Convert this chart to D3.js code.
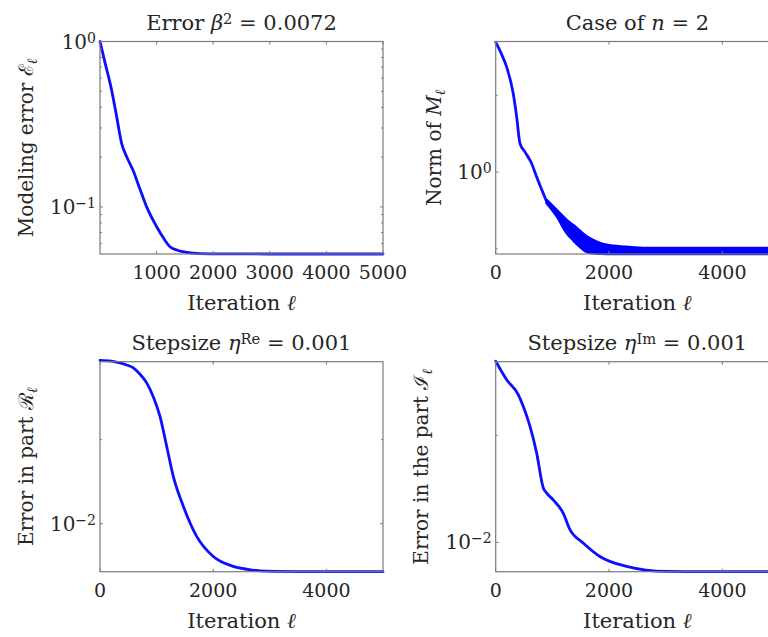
<!DOCTYPE html>
<html>
<head>
<meta charset="utf-8">
<script src="https://cdn.jsdelivr.net/npm/d3@7"></script>
<style>
  html, body { margin: 0; padding: 0; background: #fff; }
  svg { display: block; }
</style>
</head>
<body>
<svg id="chart" width="768" height="637" font-family="'DejaVu Serif', serif"></svg>
<script>
// ---------------- DATA ----------------
// Top-left: modeling error E_l
const tlIter = [1, 100, 194, 290, 383, 480, 583, 700, 825, 1002, 1120, 1237, 1380, 1532, 1767, 2200, 3000, 4000, 5000];
const tlErr  = [1.0, 0.72, 0.532, 0.36, 0.242, 0.198, 0.167, 0.130, 0.100, 0.0759, 0.0650, 0.0574, 0.0545, 0.0531, 0.0522, 0.0520, 0.0519, 0.0519, 0.0519];
const tlXTicks = [1000, 2000, 3000, 4000, 5000];
const tlYMajor = [1, 0.1];
const tlYMinor = [0.06, 0.07, 0.08, 0.09, 0.2, 0.3, 0.4, 0.5, 0.6, 0.7, 0.8, 0.9];
const tlYLabels = ["0", "−1"];

// Top-right: norm of M_l (single curve, then oscillating band)
const trIter = [0, 100, 194, 310, 370, 428, 516, 634, 722, 839, 899];
const trNorm = [7.02, 5.9, 4.83, 3.24, 2.29, 1.54, 1.355, 1.139, 0.932, 0.727, 0.643];
const trBandIter  = [899, 1075, 1251, 1367, 1485, 1604, 1780, 1956, 2300, 2661, 3500, 5000];
const trBandUpper = [0.658, 0.567, 0.488, 0.452, 0.415, 0.382, 0.353, 0.336, 0.326, 0.320, 0.320, 0.320];
const trBandLower = [0.629, 0.518, 0.402, 0.360, 0.327, 0.303, 0.295, 0.293, 0.293, 0.293, 0.293, 0.293];
const trXTicks = [0, 2000, 4000];
const trYMajor = [1];
const trYMinor = [Math.pow(10, 0.5), Math.pow(10, -0.5)];
const trYLabels = ["0"];

// Bottom-left: error in part R_l
const blIter = [0, 200, 353, 470, 589, 700, 825, 950, 1060, 1178, 1295, 1472, 1708, 2002, 2356, 2700, 2945, 3500, 5000];
const blErr  = [0.0938, 0.0928, 0.0905, 0.0880, 0.0846, 0.0780, 0.0688, 0.0560, 0.0435, 0.0289, 0.0191, 0.0127, 0.00840, 0.00638, 0.00557, 0.00530, 0.00522, 0.00519, 0.00518];
const blXTicks = [0, 2000, 4000];
const blYMajor = [0.01];
const blYMinor = [Math.pow(10, -1.5)];
const blYLabels = ["−2"];

// Bottom-right: error in the part I_l
const brIter = [0, 194, 398, 486, 604, 722, 839, 900, 1015, 1191, 1309, 1544, 1838, 2308, 3013, 3800, 5000];
const brErr  = [0.0701, 0.0575, 0.0490, 0.0432, 0.0349, 0.0262, 0.0180, 0.0170, 0.0158, 0.0137, 0.0115, 0.00994, 0.00860, 0.00773, 0.00732, 0.00730, 0.00730];
const brXTicks = [0, 2000, 4000];
const brYMajor = [0.01];
const brYMinor = [Math.pow(10, -1.5)];
const brYLabels = ["−2"];

// ---------------- DRAW ----------------
const svg = d3.select("#chart");
const FS_T = 21;   // titles, x labels
const FS_Y = 20;   // y labels
const FS_K = 19;   // tick labels
const textColor = "#262626";
const axisColor = "#7a7a7a";
const lineColor = "#0000ff";

function rich(sel, segs, fs) {
  segs.forEach(s => {
    const ts = sel.append("tspan").text(s.t);
    if (s.i) ts.attr("font-style", "italic");
    if (s.sup) ts.attr("baseline-shift", "42%").attr("font-size", fs * 0.7);
    if (s.sub) ts.attr("baseline-shift", "-25%").attr("font-size", fs * 0.7);
  });
  return sel;
}

function panel(cfg) {
  const x = d3.scaleLinear().domain(cfg.xDomain).range([cfg.x0, cfg.x1]);
  const y = d3.scaleLog().domain(cfg.yDomain).range([cfg.y1, cfg.y0]);
  const g = svg.append("g");

  const line = d3.line().x(d => x(d[0])).y(d => y(d[1])).curve(d3.curveMonotoneX);
  if (cfg.band) {
    const area = d3.area().x(d => x(d[0])).y0(d => y(d[2])).y1(d => y(d[1])).curve(d3.curveMonotoneX);
    const bd = cfg.band.iter.map((v, i) => [v, cfg.band.upper[i], cfg.band.lower[i]]);
    g.append("path").attr("d", area(bd)).attr("fill", lineColor).attr("stroke", lineColor)
      .attr("stroke-width", 2.6).attr("stroke-linejoin", "round");
  }
  const data = cfg.iter.map((v, i) => [v, cfg.vals[i]]);
  g.append("path").attr("d", line(data)).attr("fill", "none").attr("stroke", lineColor)
    .attr("stroke-width", 2.8).attr("stroke-linejoin", "round").attr("stroke-linecap", "round")
    .attr("opacity", 0.95);

  g.append("rect").attr("x", cfg.x0).attr("y", cfg.y0)
    .attr("width", cfg.x1 - cfg.x0).attr("height", cfg.y1 - cfg.y0)
    .attr("fill", "none").attr("stroke", axisColor).attr("stroke-width", 1.2);

  const tk = 3;
  cfg.xTicks.forEach(t => {
    const px = x(t);
    g.append("line").attr("x1", px).attr("x2", px).attr("y1", cfg.y1).attr("y2", cfg.y1 - tk).attr("stroke", axisColor);
    g.append("line").attr("x1", px).attr("x2", px).attr("y1", cfg.y0).attr("y2", cfg.y0 + tk).attr("stroke", axisColor);
    g.append("text").attr("x", px).attr("y", cfg.y1 + 25).attr("text-anchor", "middle")
      .attr("font-size", FS_K).attr("fill", textColor).text(d3.format("d")(t));
  });
  cfg.yMajor.forEach((t, i) => {
    const py = y(t);
    g.append("line").attr("x1", cfg.x0).attr("x2", cfg.x0 + tk).attr("y1", py).attr("y2", py).attr("stroke", axisColor);
    g.append("line").attr("x1", cfg.x1).attr("x2", cfg.x1 - tk).attr("y1", py).attr("y2", py).attr("stroke", axisColor);
    const tx = g.append("text").attr("x", cfg.x0 - 4).attr("y", py + 7).attr("text-anchor", "end")
      .attr("font-size", FS_K + 1).attr("fill", textColor);
    rich(tx, [{t: "10"}, {t: cfg.yLabels[i], sup: true}], FS_K + 1);
  });
  cfg.yMinor.forEach(t => {
    const py = y(t);
    g.append("line").attr("x1", cfg.x0).attr("x2", cfg.x0 + 2).attr("y1", py).attr("y2", py).attr("stroke", axisColor);
    g.append("line").attr("x1", cfg.x1).attr("x2", cfg.x1 - 2).attr("y1", py).attr("y2", py).attr("stroke", axisColor);
  });

  const tt = g.append("text").attr("x", (cfg.x0 + cfg.x1) / 2).attr("y", cfg.y0 - 12)
    .attr("text-anchor", "middle").attr("font-size", FS_T).attr("fill", textColor);
  rich(tt, cfg.title, FS_T);
  const xl = g.append("text").attr("x", (cfg.x0 + cfg.x1) / 2).attr("y", cfg.y1 + 56)
    .attr("text-anchor", "middle").attr("font-size", FS_T).attr("fill", textColor);
  rich(xl, [{t: "Iteration "}, {t: "ℓ", i: true}], FS_T);
  const yl = g.append("text")
    .attr("transform", `translate(${cfg.yLabelX},${(cfg.y0 + cfg.y1) / 2}) rotate(-90)`)
    .attr("text-anchor", "middle").attr("font-size", FS_Y).attr("fill", textColor);
  rich(yl, cfg.yLabel, FS_Y);
}

panel({
  x0: 100, x1: 383, y0: 41.5, y1: 254,
  xDomain: [1, 5000], yDomain: [0.0519, 1],
  iter: tlIter, vals: tlErr, xTicks: tlXTicks,
  yMajor: tlYMajor, yMinor: tlYMinor, yLabels: tlYLabels,
  title: [{t: "Error "}, {t: "β", i: true}, {t: "2", sup: true}, {t: " = 0.0072"}],
  yLabel: [{t: "Modeling error "}, {t: "ℰ"}, {t: "ℓ", i: true, sub: true}],
  yLabelX: 33
});
panel({
  x0: 495.7, x1: 779, y0: 41.5, y1: 254,
  xDomain: [0, 5000], yDomain: [0.293, 7.09],
  iter: trIter, vals: trNorm, xTicks: trXTicks,
  band: {iter: trBandIter, upper: trBandUpper, lower: trBandLower},
  yMajor: trYMajor, yMinor: trYMinor, yLabels: trYLabels,
  title: [{t: "Case of "}, {t: "n", i: true}, {t: " = 2"}],
  yLabel: [{t: "Norm of "}, {t: "M", i: true}, {t: "ℓ", i: true, sub: true}],
  yLabelX: 441
});
panel({
  x0: 100, x1: 383, y0: 361.7, y1: 571.7,
  xDomain: [0, 5000], yDomain: [0.00518, 0.092],
  iter: blIter, vals: blErr, xTicks: blXTicks,
  yMajor: blYMajor, yMinor: blYMinor, yLabels: blYLabels,
  title: [{t: "Stepsize "}, {t: "η", i: true}, {t: "Re", sup: true}, {t: " = 0.001"}],
  yLabel: [{t: "Error in part "}, {t: "ℛ"}, {t: "ℓ", i: true, sub: true}],
  yLabelX: 33
});
panel({
  x0: 495.7, x1: 779, y0: 361.7, y1: 571.7,
  xDomain: [0, 5000], yDomain: [0.0073, 0.0698],
  iter: brIter, vals: brErr, xTicks: brXTicks,
  yMajor: brYMajor, yMinor: brYMinor, yLabels: brYLabels,
  title: [{t: "Stepsize "}, {t: "η", i: true}, {t: "Im", sup: true}, {t: " = 0.001"}],
  yLabel: [{t: "Error in the part "}, {t: "ℐ"}, {t: "ℓ", i: true, sub: true}],
  yLabelX: 428
});
</script>
</body>
</html>
